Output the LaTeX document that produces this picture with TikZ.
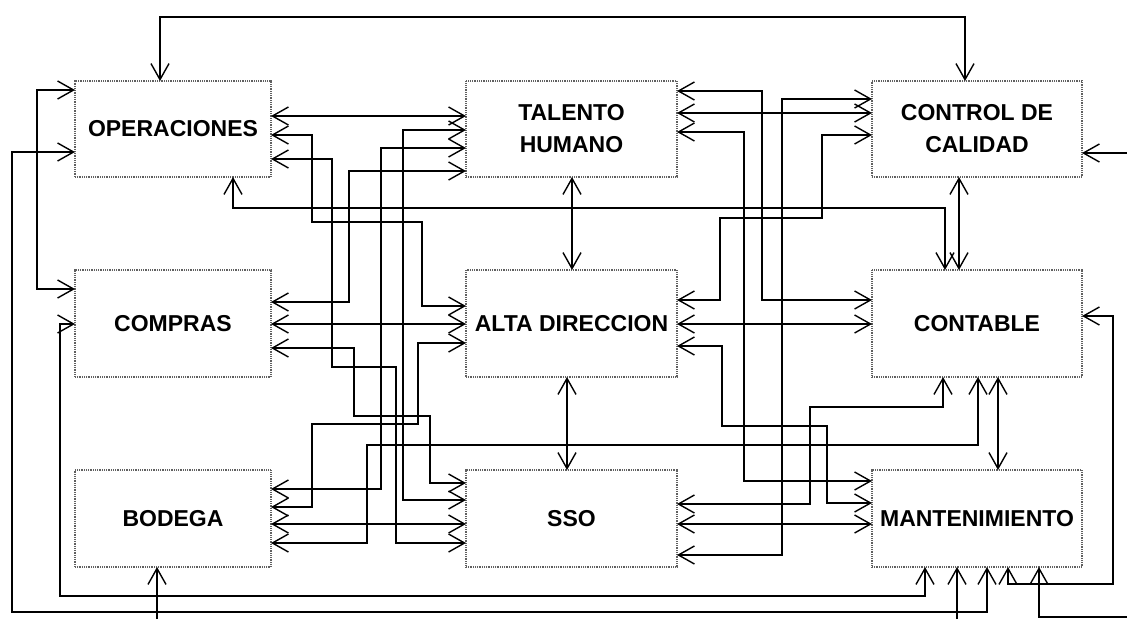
\documentclass[tikz,border=0pt]{standalone}
\usepackage{fontspec}
\setmainfont{Liberation Sans}
\usetikzlibrary{arrows.meta}
\begin{document}
\begin{tikzpicture}[x=1pt,y=-1pt,
  >={Straight Barb[length=16pt,width=18pt]},
  box/.style={draw=gray!75!black, line width=1.8pt, dash pattern=on 1pt off 0.8pt,
    fill=white, inner sep=0pt, outer sep=0pt,
    font=\fontsize{23}{32}\selectfont\bfseries, align=center},
  conn/.style={line width=1.4pt, <->},
  conin/.style={line width=1.4pt, ->}]
\useasboundingbox (0,0) rectangle (1127,619);
% boxes
\node[box,minimum width=196pt,minimum height=96pt] (oper) at (173,129) {OPERACIONES};
\node[box,minimum width=211pt,minimum height=96pt] (tal) at (571.5,129) {TALENTO\\HUMANO};
\node[box,minimum width=210pt,minimum height=96pt] (cc) at (977,129) {CONTROL DE\\CALIDAD};
\node[box,minimum width=196pt,minimum height=107pt] (comp) at (173,323.5) {COMPRAS};
\node[box,minimum width=211pt,minimum height=107pt] (alta) at (571.5,323.5) {ALTA DIRECCION};
\node[box,minimum width=210pt,minimum height=107pt] (cont) at (977,323.5) {CONTABLE};
\node[box,minimum width=196pt,minimum height=97pt] (bod) at (173,518.5) {BODEGA};
\node[box,minimum width=211pt,minimum height=97pt] (sso) at (571.5,518.5) {SSO};
\node[box,minimum width=210pt,minimum height=97pt] (mant) at (977,518.5) {MANTENIMIENTO};
% free ends
\coordinate (r1) at (1127,153);
\coordinate (r2) at (1127,617);
\coordinate (b1) at (157,619);
\coordinate (b2) at (957,619);
% connectors
\draw[conn] (160,0|-oper.north) -- (160,17) -- (965,17) -- (965,0|-cc.north);
\draw[conin] (r1) -- (cc.east|-r1);
\draw[conn] (oper.west|-0,90) -- (37,90) -- (37,289) -- (comp.west|-0,289);
\draw[conn] (oper.west|-0,152) -- (12,152) -- (12,612) -- (987,612) -- (987,0|-mant.south);
\draw[conn] (comp.west|-0,324) -- (60,324) -- (60,596) -- (925,596) -- (925,0|-mant.south);
\draw[conin] (b1) -- (b1|-bod.south);
\draw[conin] (b2) -- (b2|-mant.south);
\draw[conin] (r2) -- (1039,617) -- (1039,0|-mant.south);
\draw[conn] (cont.east|-0,316) -- (1113,316) -- (1113,584) -- (1008,584) -- (1008,0|-mant.south);
\draw[conn] (572,0|-tal.south) -- (572,0|-alta.north);
\draw[conn] (567,0|-alta.south) -- (567,0|-sso.north);
\draw[conn] (959,0|-cc.south) -- (959,0|-cont.north);
\draw[conn] (233,0|-oper.south) -- (233,208) -- (945,208) -- (945,0|-cont.north);
\draw[conn] (998,0|-cont.south) -- (998,0|-mant.north);
\draw[conn] (978,0|-cont.south) -- (978,445) -- (367,445) -- (367,543) -- (bod.east|-0,543);
\draw[conn] (943,0|-cont.south) -- (943,407) -- (810,407) -- (810,504) -- (sso.east|-0,504);
\draw[conn] (tal.east|-0,91) -- (762,91) -- (762,300) -- (cont.west|-0,300);
\draw[conn] (tal.east|-0,113) -- (cc.west|-0,113);
\draw[conn] (tal.east|-0,132) -- (744,132) -- (744,481) -- (mant.west|-0,481);
\draw[conn] (cc.west|-0,99) -- (782,99) -- (782,555) -- (sso.east|-0,555);
\draw[conn] (cc.west|-0,135) -- (822,135) -- (822,218) -- (720,218) -- (720,300) -- (alta.east|-0,300);
\draw[conn] (alta.east|-0,324) -- (cont.west|-0,324);
\draw[conn] (alta.east|-0,346) -- (722,346) -- (722,426) -- (827,426) -- (827,503) -- (mant.west|-0,503);
\draw[conn] (sso.east|-0,524) -- (mant.west|-0,524);
\draw[conn] (oper.east|-0,116) -- (tal.west|-0,116);
\draw[conn] (oper.east|-0,135) -- (312,135) -- (312,222) -- (422,222) -- (422,306) -- (alta.west|-0,306);
\draw[conn] (oper.east|-0,159) -- (332,159) -- (332,367) -- (396,367) -- (396,543) -- (sso.west|-0,543);
\draw[conn] (tal.west|-0,171) -- (349,171) -- (349,302) -- (comp.east|-0,302);
\draw[conn] (tal.west|-0,148) -- (381,148) -- (381,489) -- (bod.east|-0,489);
\draw[conn] (tal.west|-0,130) -- (403,130) -- (403,500) -- (sso.west|-0,500);
\draw[conn] (comp.east|-0,324) -- (alta.west|-0,324);
\draw[conn] (comp.east|-0,348) -- (354,348) -- (354,416) -- (430,416) -- (430,483) -- (sso.west|-0,483);
\draw[conn] (alta.west|-0,343) -- (418,343) -- (418,424) -- (312,424) -- (312,507) -- (bod.east|-0,507);
\draw[conn] (bod.east|-0,524) -- (sso.west|-0,524);
\end{tikzpicture}
\end{document}
